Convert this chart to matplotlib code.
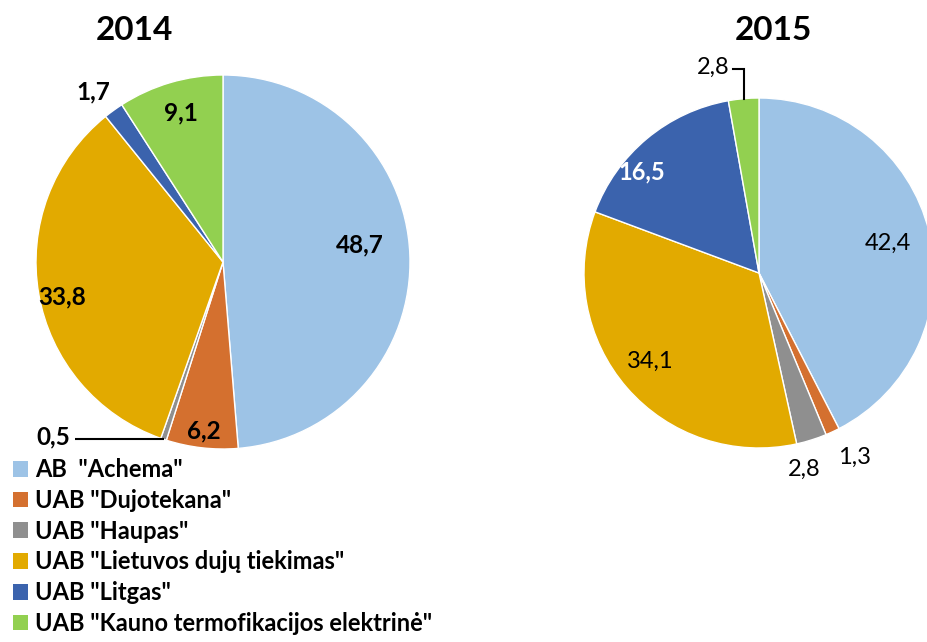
import matplotlib
matplotlib.use('Agg')
import matplotlib.pyplot as plt
from matplotlib.patches import Patch
import numpy as np

# ---- data ----
companies = ['AB  "Achema"', 'UAB "Dujotekana"', 'UAB "Haupas"',
             'UAB "Lietuvos dujų tiekimas"', 'UAB "Litgas"',
             'UAB "Kauno termofikacijos elektrinė"']
years = ['2014', '2015']
values_2014 = [48.7, 6.2, 0.5, 33.8, 1.7, 9.1]
values_2015 = [42.4, 1.3, 2.8, 34.1, 16.5, 2.8]
colors = ['#9DC3E6', '#D4702F', '#8F8F8F', '#E2AA00', '#3B63AD', '#92D050']

FONT = 'Lato'

def fmt(v):
    return f'{v:.1f}'.replace('.', ',')

W, H = 928, 642
fig = plt.figure(figsize=(W / 100, H / 100), dpi=100)
ax = fig.add_axes([0, 0, 1, 1])

# pie geometry (pixel units, y up)
pies = [
    dict(values=values_2014, center=(223, H - 262), radius=187,
         title_xy=(134, H - 30), weight='bold', size=17.5,
         # per-label: (angle offset deg, radius factor, color, weight) ; None = leader
         lab=[(4.8, 0.735, 'black', 'bold'), (0, 0.91, 'black', 'bold'), None,
              (2.5, 0.88, 'black', 'bold'), (1.6, 1.145, 'black', 'bold'),
              (-0.7, 0.83, 'black', 'bold')]),
    dict(values=values_2015, center=(759, H - 273), radius=175,
         title_xy=(773, H - 30), weight='normal', size=17,
         lab=[(-0.6, 0.755, 'black', 'normal'), (2.6, 1.186, 'black', 'normal'),
              (-4.4, 1.15, 'black', 'normal'), (-1.7, 0.80, 'black', 'normal'),
              (9.3, 0.886, 'white', 'bold'), None]),
]

for pi, p in enumerate(pies):
    wedges, _ = ax.pie(p['values'], colors=colors, startangle=90, counterclock=False,
                       center=p['center'], radius=p['radius'],
                       wedgeprops=dict(edgecolor='white', linewidth=1.0))
    cx, cy = p['center']
    r = p['radius']
    ax.text(p['title_xy'][0], p['title_xy'][1], years[pi], ha='center', va='center',
            fontsize=24, fontweight='bold', family=FONT)
    for i, w in enumerate(wedges):
        mid = np.deg2rad((w.theta1 + w.theta2) / 2)
        txt = fmt(p['values'][i])
        spec = p['lab'][i]
        if spec is not None:
            off, f, col, wt = spec
            a = mid + np.deg2rad(off)
            ax.text(cx + f * r * np.cos(a), cy + f * r * np.sin(a), txt,
                    ha='center', va='center', fontsize=p['size'], color=col,
                    fontweight=wt, family=FONT)
        else:
            ex, ey = cx + r * np.cos(mid), cy + r * np.sin(mid)
            if pi == 0:
                # horizontal leader to the left
                x2 = ex - 0.475 * r
                ax.plot([ex, x2], [ey, ey], color='black', lw=1.5, solid_capstyle='butt')
                ax.text(x2 - 5, ey + 2, txt, ha='right', va='center',
                        fontsize=p['size'], fontweight=p['weight'], family=FONT)
            else:
                y2 = ey + 0.17 * r
                x2 = ex - 0.06 * r
                ax.plot([ex, ex, x2], [ey, y2, y2], color='black', lw=1.5,
                        solid_joinstyle='miter')
                ax.text(x2 - 4, y2 + 2, txt, ha='right', va='center',
                        fontsize=p['size'], fontweight=p['weight'], family=FONT)

ax.set_xlim(0, W)
ax.set_ylim(0, H)
ax.set_aspect('auto')
ax.axis('off')

handles = [Patch(facecolor=c, edgecolor='none') for c in colors]
leg = fig.legend(handles, companies, loc='upper left',
                 bbox_to_anchor=(13 / W, 1 - 458 / H),
                 frameon=False, prop=dict(family=FONT, weight='bold', size=17),
                 handlelength=0.64, handleheight=0.64, handletextpad=0.3,
                 labelspacing=0.33, borderaxespad=0, borderpad=0)

fig.savefig('out.png', dpi=100)
